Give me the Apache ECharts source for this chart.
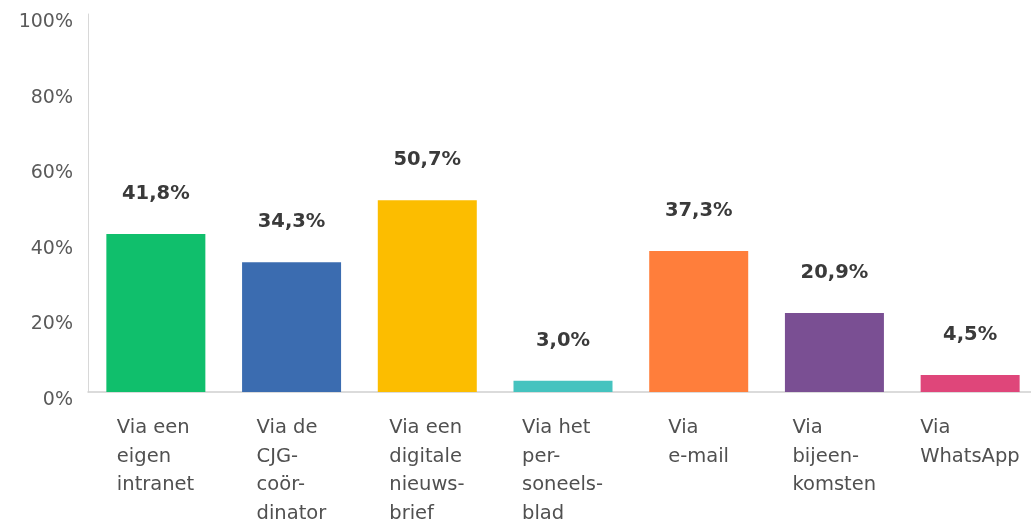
<!DOCTYPE html>
<html><head><meta charset="utf-8">
<script src="https://cdn.jsdelivr.net/npm/echarts@6/dist/echarts.min.js"></script>
<style>html,body{margin:0;padding:0;background:#fff}#c{width:1031px;height:521px}</style>
</head><body><div id="c"></div>
<script>
var categories = ["Via een\neigen\nintranet", "Via de\nCJG-\ncoör-\ndinator", "Via een\ndigitale\nnieuws-\nbrief", "Via het\nper-\nsoneels-\nblad", "Via\ne-mail", "Via\nbijeen-\nkomsten", "Via\nWhatsApp"];
var values = [41.8, 34.3, 50.7, 3.0, 37.3, 20.9, 4.5];
var colors = ["#10bf6c", "#3b6cb0", "#fcbd00", "#45c3bf", "#ff7e3b", "#7a4f93", "#df467a"];
var yTicks = [0, 20, 40, 60, 80, 100];

var FONT = "DejaVu Sans";
var catSize = 19.5;
var cv = document.createElement('canvas').getContext('2d');
cv.font = catSize + "px '" + FONT + "'";
var rich = {};
categories.forEach(function (c, i) {
  var w = 0;
  c.split("\n").forEach(function (l) { w = Math.max(w, cv.measureText(l).width); });
  rich['c' + i] = { width: Math.ceil(w), align: 'left', fontFamily: FONT, fontSize: catSize, color: '#505050', lineHeight: 28.5 };
});

var chart = echarts.init(document.getElementById('c'));
chart.setOption({
  animation: false,
  backgroundColor: '#fff',
  grid: { left: 88, width: 950, top: 14, bottom: 129, containLabel: false, outerBoundsMode: 'none' },
  xAxis: {
    type: 'category',
    data: categories,
    axisLine: { lineStyle: { color: '#d0d0d0', width: 1.5 } },
    axisTick: { show: false },
    axisLabel: {
      interval: 0,
      margin: 22,
      formatter: function (v, idx) {
        return v.split("\n").map(function (l) { return '{c' + idx + '|' + l + '}'; }).join("\n");
      },
      rich: rich
    }
  },
  yAxis: {
    type: 'value',
    min: 0, max: 100, interval: 20,
    axisLine: { show: true, lineStyle: { color: '#d8d8d8', width: 1 } },
    axisTick: { show: false },
    splitLine: { show: false },
    axisLabel: {
      margin: 15,
      verticalAlign: 'top',
      lineHeight: 16,
      fontFamily: FONT, fontSize: 19, color: '#5a5a5a',
      formatter: function (v) { return yTicks.indexOf(v) >= 0 ? v + '%' : ''; }
    }
  },
  series: [{
    type: 'bar',
    barWidth: 99,
    data: values.map(function (v, i) { return { value: v, itemStyle: { color: colors[i] } }; }),
    label: {
      show: true,
      position: 'top',
      distance: 30,
      fontFamily: FONT, fontSize: 19.5, fontWeight: 'bold', color: '#3a3a3a',
      formatter: function (p) { return p.value.toFixed(1).replace('.', ',') + '%'; }
    }
  }]
});
</script></body></html>
